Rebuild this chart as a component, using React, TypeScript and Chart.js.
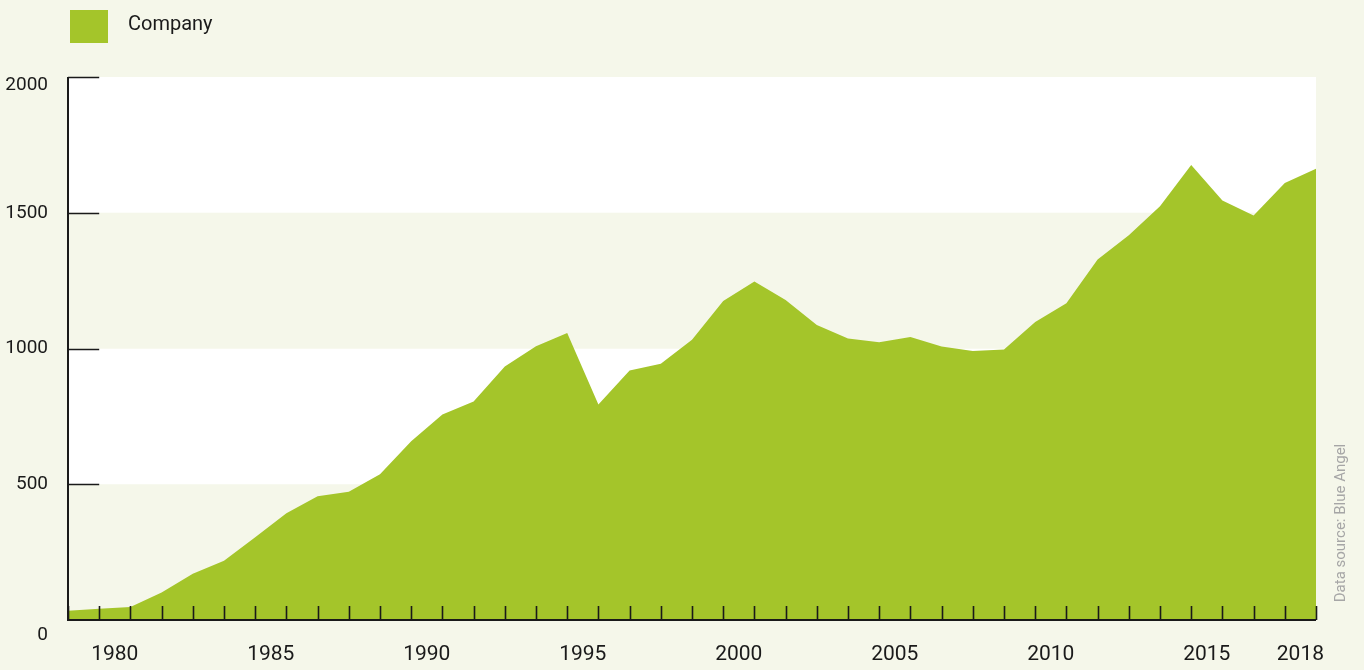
import React, { useEffect, useRef } from "react";
import { Chart, registerables } from "chart.js";

Chart.register(...registerables);

const YEARS = [
  1978, 1979, 1980, 1981, 1982, 1983, 1984, 1985, 1986, 1987, 1988, 1989, 1990, 1991,
  1992, 1993, 1994, 1995, 1996, 1997, 1998, 1999, 2000, 2001, 2002, 2003, 2004, 2005,
  2006, 2007, 2008, 2009, 2010, 2011, 2012, 2013, 2014, 2015, 2016, 2017, 2018,
];
const COMPANY = [
  34, 41, 48, 101, 170, 218, 305, 393, 456, 472, 537, 658, 757, 805,
  934, 1008, 1057, 794, 919, 944, 1032, 1175, 1247, 1179, 1087, 1037, 1023, 1042,
  1007, 991, 996, 1098, 1167, 1328, 1417, 1524, 1676, 1545, 1490, 1610, 1662,
];
const X_LABEL_YEARS = [1980, 1985, 1990, 1995, 2000, 2005, 2010, 2015, 2018];
const Y_TICKS = [0, 500, 1000, 1500, 2000];
const SERIES_LABEL = "Company";
const SOURCE_TEXT = "Data source: Blue Angel";

const GREEN = "#a4c52a";
const BEIGE = "#f5f7ea";
const INK = "#1a1a1a";
const FONT = "Roboto, 'Liberation Sans', sans-serif";

const decorPlugin = {
  id: "decor",
  beforeDatasetsDraw(chart: any) {
    const { ctx, chartArea } = chart;
    const y = chart.scales.y;
    ctx.save();
    for (let i = 0; i < Y_TICKS.length - 1; i++) {
      const top = y.getPixelForValue(Y_TICKS[i + 1]);
      const bot = y.getPixelForValue(Y_TICKS[i]);
      ctx.fillStyle = i % 2 === 0 ? BEIGE : "#ffffff";
      ctx.fillRect(chartArea.left, top, chartArea.right - chartArea.left, bot - top);
    }
    ctx.restore();
  },
  afterDatasetsDraw(chart: any) {
    const { ctx, chartArea } = chart;
    const x = chart.scales.x;
    const y = chart.scales.y;
    ctx.save();
    ctx.strokeStyle = INK;
    ctx.lineWidth = 2;
    ctx.beginPath();
    ctx.moveTo(chartArea.left, chartArea.top);
    ctx.lineTo(chartArea.left, chartArea.bottom);
    ctx.lineTo(chartArea.right, chartArea.bottom);
    ctx.stroke();
    ctx.lineWidth = 1.6;
    ctx.beginPath();
    for (const yr of YEARS) {
      const px = Math.round(x.getPixelForValue(yr)) + 0.5;
      ctx.moveTo(px, chartArea.bottom);
      ctx.lineTo(px, chartArea.bottom - 14);
    }
    ctx.stroke();
    const len = x.getPixelForValue(YEARS[1]) - x.getPixelForValue(YEARS[0]);
    ctx.beginPath();
    for (const v of Y_TICKS) {
      if (v === 0) continue;
      const py = Math.round(y.getPixelForValue(v)) + 0.5;
      ctx.moveTo(chartArea.left, py);
      ctx.lineTo(chartArea.left + len, py);
    }
    ctx.stroke();
    ctx.restore();
  },
  afterDraw(chart: any) {
    const { ctx } = chart;
    const ds = chart.data.datasets[0];
    ctx.save();
    ctx.fillStyle = ds.backgroundColor;
    ctx.fillRect(70, 10, 38, 33);
    ctx.fillStyle = INK;
    ctx.font = `20px ${FONT}`;
    ctx.textBaseline = "middle";
    ctx.textAlign = "left";
    ctx.fillText(ds.label, 128, 25);
    ctx.translate(1341, 523);
    ctx.rotate(-Math.PI / 2);
    ctx.fillStyle = "#a6a6a6";
    ctx.font = `15px ${FONT}`;
    ctx.textAlign = "center";
    ctx.textBaseline = "middle";
    ctx.fillText(SOURCE_TEXT, 0, 0);
    ctx.restore();
  },
};

export default function App() {
  const ref = useRef<HTMLCanvasElement>(null);

  useEffect(() => {
    document.body.style.margin = "0";
    document.body.style.background = BEIGE;
    const canvas = ref.current;
    if (!canvas) return;
    const chart = new Chart(canvas, {
      type: "line",
      data: {
        datasets: [
          {
            label: SERIES_LABEL,
            data: YEARS.map((yr, i) => ({ x: yr, y: COMPANY[i] })),
            backgroundColor: GREEN,
            borderColor: GREEN,
            borderWidth: 0,
            pointRadius: 0,
            tension: 0,
            fill: "origin",
          },
        ],
      },
      options: {
        responsive: false,
        animation: false,
        layout: { padding: { top: 77, right: 48, left: 0, bottom: 0 } },
        plugins: {
          legend: { display: false },
          tooltip: { enabled: false },
        },
        scales: {
          x: {
            type: "linear",
            min: YEARS[0],
            max: YEARS[YEARS.length - 1],
            grid: { display: false, drawTicks: false },
            border: { display: false },
            afterBuildTicks: (scale: any) => {
              scale.ticks = YEARS.map((v) => ({ value: v }));
            },
            afterFit: (scale: any) => {
              scale.height = 48;
            },
            ticks: {
              autoSkip: false,
              maxRotation: 0,
              padding: 22,
              labelOffset: -15.6,
              color: INK,
              font: { family: FONT, size: 21 },
              callback: (v: any) => (X_LABEL_YEARS.includes(Number(v)) ? String(v) : ""),
            },
          },
          y: {
            min: 0,
            max: 2000,
            grid: { display: false, drawTicks: false },
            border: { display: false },
            afterBuildTicks: (scale: any) => {
              scale.ticks = Y_TICKS.map((v) => ({ value: v }));
            },
            afterFit: (scale: any) => {
              scale.width = 68;
            },
            ticks: {
              padding: 20,
              color: INK,
              font: (c: any) => {
                const v = c.tick ? c.tick.value : null;
                if (v === 0) return { family: FONT, size: 19, lineHeight: "30px" };
                if (v === 2000) return { family: FONT, size: 19, lineHeight: "16px" };
                return { family: FONT, size: 19 };
              },
              callback: (v: any) => (v === 0 || v === 2000 ? ["", String(v)] : String(v)),
            },
          },
        },
      },
      plugins: [decorPlugin],
    });
    return () => chart.destroy();
  }, []);

  return (
    <div style={{ width: 1364, height: 670, background: BEIGE }}>
      <canvas ref={ref} width={1364} height={670} style={{ display: "block" }} />
    </div>
  );
}
